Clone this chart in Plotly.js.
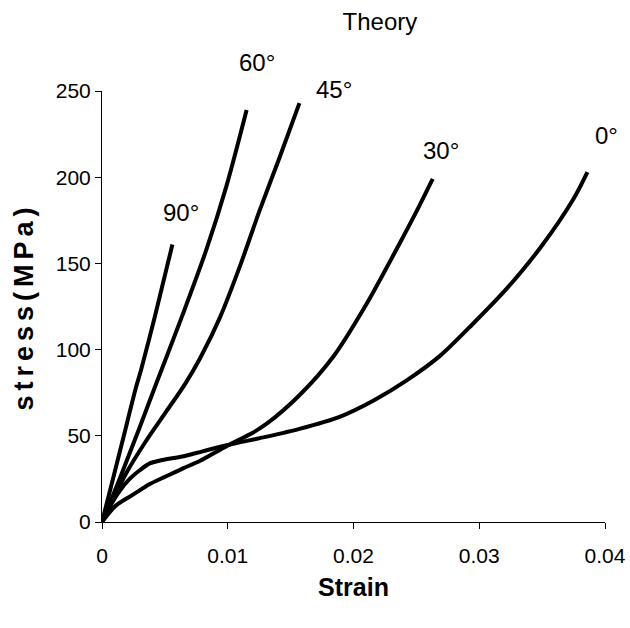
<!DOCTYPE html>
<html>
<head>
<meta charset="utf-8">
<script src="https://cdn.plot.ly/plotly-3.0.1.min.js"></script>
<style>html,body{margin:0;padding:0;background:#fff;}#chart{width:630px;height:628px;}</style>
</head>
<body>
<div id="chart"></div>
<script>
// Strain / stress (MPa)
const strain0   = [0, 0.0007, 0.0014, 0.0022, 0.0030, 0.0038, 0.0048, 0.0064, 0.0080, 0.0099, 0.0131, 0.0157, 0.0189, 0.0216, 0.0242, 0.0269, 0.0295, 0.0322, 0.0349, 0.0375, 0.0386];
const stress0   = [0, 10, 18, 25, 30, 34, 36, 38, 41, 44.5, 49.5, 54, 61, 70.5, 82, 96.5, 115, 135.5, 159.5, 187.5, 203];
const strain30  = [0, 0.0011, 0.0025, 0.0038, 0.0051, 0.0064, 0.0078, 0.0099, 0.0118, 0.0131, 0.0157, 0.0184, 0.0210, 0.0237, 0.0250, 0.0263];
const stress30  = [0, 9.5, 16, 22, 26.5, 31, 35.5, 44, 51, 57, 73.5, 96, 126, 162, 180, 199];
const strain45  = [0, 0.0009, 0.0019, 0.0035, 0.0051, 0.0066, 0.0078, 0.0094, 0.0110, 0.0125, 0.0141, 0.0157];
const stress45  = [0, 13, 28, 47, 64, 80, 95, 119, 149, 180, 211, 243];
const strain60  = [0, 0.0014, 0.0030, 0.0043, 0.0064, 0.0083, 0.0099, 0.0115];
const stress60  = [0, 25, 55, 80, 120, 158, 195, 239];
const strain90  = [0, 0.0007, 0.0017, 0.0027, 0.0031, 0.0042, 0.0056];
const stress90  = [0, 20, 49, 78, 88, 119, 161];

const seriesNames = ['0°', '30°', '45°', '60°', '90°'];
// label anchor positions as fractions of the plot area
const labelX = [1.003, 0.673, 0.462, 0.309, 0.157];
const labelY = [0.896, 0.863, 1.004, 1.067, 0.717];

const xTicks = [0, 0.01, 0.02, 0.03, 0.04];
const yTicks = [0, 50, 100, 150, 200, 250];

const FONT = '"Liberation Sans", Arial, sans-serif';
const xs = [strain0, strain30, strain45, strain60, strain90];
const ys = [stress0, stress30, stress45, stress60, stress90];

const traces = xs.map((x, i) => ({
  x: x, y: ys[i], name: seriesNames[i], type: 'scatter', mode: 'lines',
  line: {color: '#000000', width: 4, shape: 'spline', smoothing: 0.8},
  hoverinfo: 'skip', showlegend: false
}));

const annotations = seriesNames.map((t, i) => ({
  x: labelX[i], y: labelY[i], xref: 'paper', yref: 'paper', text: t, showarrow: false,
  xanchor: 'center', yanchor: 'middle', font: {family: FONT, size: 24, color: '#000'}
}));

const layout = {
  width: 630, height: 628,
  margin: {l: 102, r: 25, t: 91, b: 106},
  paper_bgcolor: '#ffffff', plot_bgcolor: '#ffffff',
  font: {family: FONT, color: '#000'},
  title: {text: 'Theory', xref: 'container', x: 0.603, xanchor: 'center', yref: 'container', y: 0.965, yanchor: 'middle',
          font: {family: FONT, size: 24, color: '#000'}},
  xaxis: {range: [0, 0.04], tickvals: xTicks, ticktext: xTicks.map(String), showgrid: false, zeroline: false,
          showline: true, linecolor: '#000', linewidth: 1, ticks: 'outside', ticklen: 6, tickcolor: '#000', tickwidth: 1,
          ticklabelstandoff: 9,
          tickfont: {family: FONT, size: 21, color: '#000'},
          title: {text: '<b>Strain</b>', font: {family: FONT, size: 25, color: '#000'}, standoff: 12}},
  yaxis: {range: [0, 250], tickvals: yTicks, showgrid: false, zeroline: false,
          showline: true, linecolor: '#000', linewidth: 1, ticks: 'outside', ticklen: 6, tickcolor: '#000', tickwidth: 1,
          tickfont: {family: FONT, size: 21, color: '#000'},
          title: {text: '<b><span style="letter-spacing:5px">stress(MPa)</span></b>', font: {family: FONT, size: 27, color: '#000'}, standoff: 14}},
  annotations: annotations,
  showlegend: false
};

Plotly.newPlot('chart', traces, layout, {displayModeBar: false, staticPlot: true});
</script>
</body>
</html>
